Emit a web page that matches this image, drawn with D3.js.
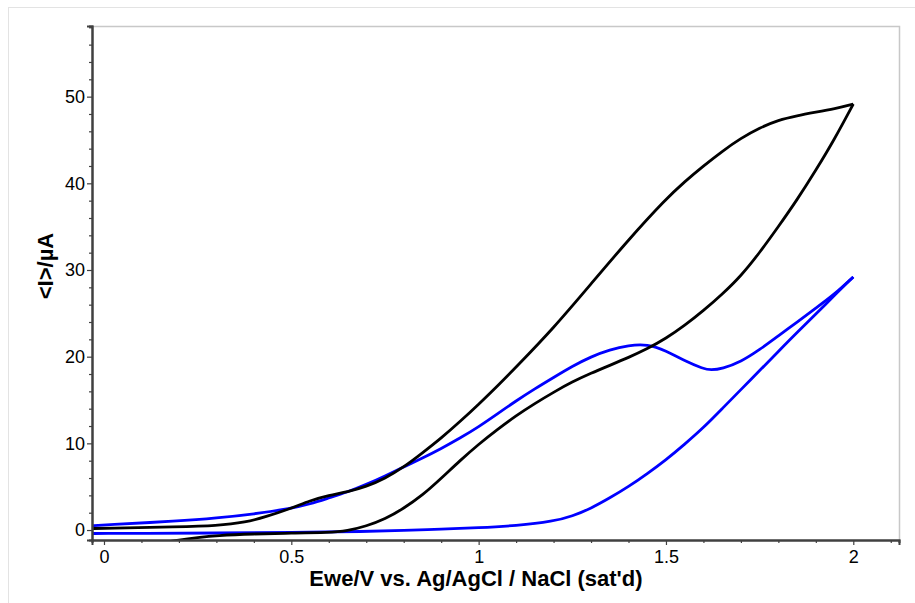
<!DOCTYPE html>
<html><head><meta charset="utf-8">
<script src="https://cdn.jsdelivr.net/npm/d3@7"></script>
<style>
body{margin:0;background:#fff;}
svg{display:block;font-family:"Liberation Sans",Arial,sans-serif;}
</style></head>
<body><svg id="c" width="915" height="603"></svg>
<script>
// Black CV (upper branch, left -> right)
const blackUpperE = [-0.032,0,0.2,0.3,0.38,0.43,0.5,0.55,0.6,0.65,0.7,0.75,0.8,0.85,0.9,0.95,1.0,1.05,1.1,1.2,1.3,1.4,1.5,1.55,1.6,1.65,1.7,1.75,1.8,1.85,1.9,1.95,2.0];
const blackUpperI = [0.17,0.2,0.38,0.5,0.9,1.5,2.5,3.4,4.0,4.4,5.0,5.95,7.25,8.9,10.6,12.5,14.5,16.6,18.8,23.3,28.4,33.5,38.2,40.2,42.0,43.7,45.2,46.4,47.3,47.8,48.2,48.6,49.15];
// Black CV (lower branch, right -> left)
const blackLowerE = [2.0,1.95,1.9,1.85,1.8,1.75,1.7,1.65,1.6,1.55,1.5,1.45,1.4,1.35,1.3,1.25,1.2,1.15,1.1,1.05,1.0,0.95,0.9,0.85,0.8,0.75,0.7,0.65,0.6,0.5,0.4,0.3,0.25,0.2,0.15];
const blackLowerI = [49.15,45.1,41.5,38.1,35.0,32.0,29.3,27.2,25.3,23.6,22.1,20.9,19.9,19.0,18.1,17.1,15.9,14.6,13.2,11.6,9.9,8.0,5.95,4.0,2.5,1.25,0.45,-0.1,-0.3,-0.36,-0.44,-0.63,-0.87,-1.15,-1.5];
// Blue CV (upper branch, left -> right)
const blueUpperE = [-0.032,0,0.2,0.3,0.4,0.5,0.55,0.6,0.65,0.7,0.75,0.8,0.85,0.9,0.95,1.0,1.05,1.1,1.15,1.2,1.25,1.3,1.35,1.4,1.45,1.5,1.55,1.6,1.62,1.65,1.7,1.75,1.8,1.85,1.9,1.95,2.0];
const blueUpperI = [0.5,0.58,1.04,1.38,1.85,2.48,3.0,3.7,4.38,5.25,6.23,7.27,8.3,9.4,10.6,11.9,13.4,14.9,16.3,17.6,18.9,20.0,20.8,21.3,21.45,20.7,19.5,18.6,18.45,18.6,19.4,20.8,22.4,24.0,25.6,27.2,29.2];
// Blue CV (lower branch, right -> left)
const blueLowerE = [2.0,1.95,1.9,1.85,1.8,1.75,1.7,1.65,1.6,1.55,1.5,1.45,1.4,1.35,1.3,1.25,1.2,1.1,1.0,0.9,0.8,0.7,0.5,0.3,0.1,0,-0.032];
const blueLowerI = [29.2,27.1,24.9,22.8,20.6,18.4,16.2,14.0,11.8,9.9,8.1,6.5,5.0,3.7,2.5,1.6,1.0,0.5,0.27,0.12,-0.06,-0.17,-0.29,-0.35,-0.38,-0.4,-0.4];

const xMajor = [0,0.5,1,1.5,2];
const xMinor = [0.1,0.2,0.3,0.4,0.6,0.7,0.8,0.9,1.1,1.2,1.3,1.4,1.6,1.7,1.8,1.9,2.1];
const yMajor = [0,10,20,30,40,50];
const yMinor = [2,4,6,8,12,14,16,18,22,24,26,28,32,34,36,38,42,44,46,48,52,54,56,58];
const xTitle = "Ewe/V vs. Ag/AgCl / NaCl (sat'd)";
const yTitle = "<I>/µA";

const svg = d3.select("#c");
const L=92, R=899, T=26, B=540;
const x = d3.scaleLinear().domain([-0.032,2.122]).range([L,R]);
const y = d3.scaleLinear().domain([-1.15,58.15]).range([B,T]);

// outer frame
svg.append("rect").attr("x",8.5).attr("y",7.5).attr("width",920).attr("height",620)
  .attr("fill","none").attr("stroke","#e3e3e3").attr("stroke-width",1);

// plot frame top/right
svg.append("path").attr("d",`M${L},${T+0.5}H${R+0.5}V${B}`).attr("fill","none").attr("stroke","#c8c8c8").attr("stroke-width",1.5);

svg.append("clipPath").attr("id","clip").append("rect").attr("x",L).attr("y",T).attr("width",R-L).attr("height",B-T);

const zip=(E,I)=>E.map((e,i)=>[e,I[i]]);
const line = d3.line().x(d=>x(d[0])).y(d=>y(d[1])).curve(d3.curveBasis);
const g = svg.append("g").attr("clip-path","url(#clip)");
const sw = 2.8;
g.append("path").attr("d", line(zip(blueLowerE,blueLowerI)))
  .attr("fill","none").attr("stroke","#0000ff").attr("stroke-width",sw);
g.append("path").attr("d", line(zip(blueUpperE,blueUpperI)))
  .attr("fill","none").attr("stroke","#0000ff").attr("stroke-width",sw);
g.append("path").attr("d", line(zip(blackLowerE,blackLowerI)))
  .attr("fill","none").attr("stroke","#000").attr("stroke-width",sw);
g.append("path").attr("d", line(zip(blackUpperE,blackUpperI)))
  .attr("fill","none").attr("stroke","#000").attr("stroke-width",sw);

const axCol="#404040";
function style(sel){ sel.select(".domain").attr("stroke",axCol).attr("stroke-width",2);
  sel.selectAll(".tick line").attr("stroke",axCol).attr("stroke-width",1.2);
  sel.selectAll("text").attr("fill","#000").style("font-size","18px").style("font-family","'Liberation Sans',Arial,sans-serif"); }

const gxm = svg.append("g").attr("transform",`translate(0,${B})`)
  .call(d3.axisBottom(x).tickValues(xMinor).tickSize(3).tickFormat(""));
style(gxm);
const gx = svg.append("g").attr("transform",`translate(0,${B})`)
  .call(d3.axisBottom(x).tickValues(xMajor).tickSize(5).tickPadding(5).tickFormat(d=>String(d)));
style(gx);
const gym = svg.append("g").attr("transform",`translate(${L},0)`)
  .call(d3.axisLeft(y).tickValues(yMinor).tickSize(3).tickFormat(""));
style(gym);
const gy = svg.append("g").attr("transform",`translate(${L},0)`)
  .call(d3.axisLeft(y).tickValues(yMajor).tickSize(5).tickPadding(2).tickFormat(d=>String(d)));
style(gy);

svg.append("text").attr("x",476).attr("y",586).attr("text-anchor","middle")
  .style("font-size","22px").style("font-weight","bold").text(xTitle);
svg.append("text").attr("transform","translate(53,266) rotate(-90)").attr("text-anchor","middle")
  .style("font-size","22px").style("font-weight","bold").text(yTitle);
</script></body></html>
